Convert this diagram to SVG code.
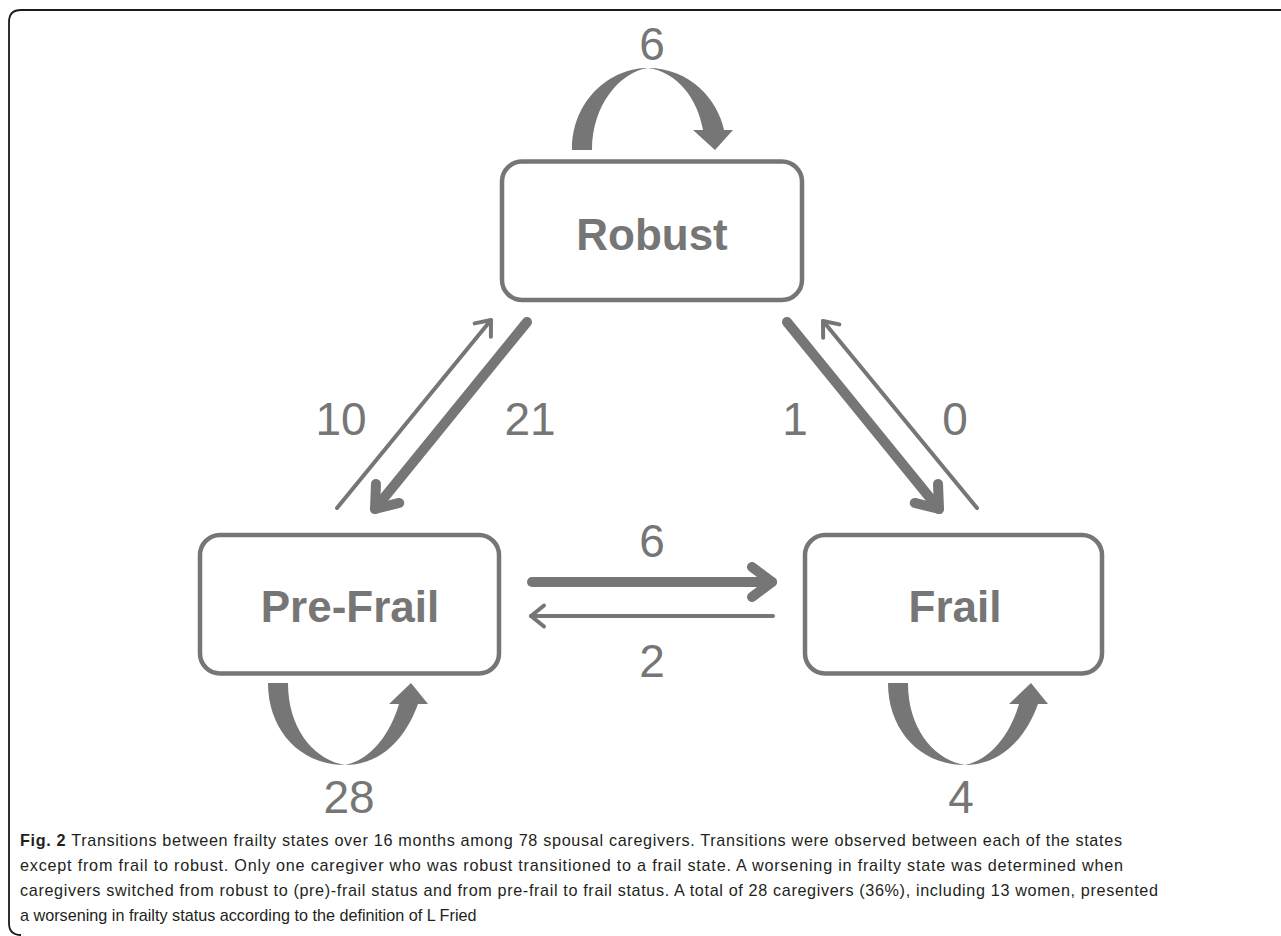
<svg xmlns="http://www.w3.org/2000/svg" width="1281" height="936" viewBox="0 0 1281 936">
<style>
.box{fill:#fff;stroke:#767676;stroke-width:4.5}
.lbl{font-family:"Liberation Sans",Arial,sans-serif;font-weight:bold;font-size:44px;fill:#767676;text-anchor:middle}
.num{font-family:"Liberation Sans",Arial,sans-serif;font-size:46px;fill:#767676;text-anchor:middle}
.thick{fill:none;stroke:#767676;stroke-width:10;stroke-linecap:round;stroke-linejoin:round}
.thin{fill:none;stroke:#767676;stroke-width:4;stroke-linecap:round;stroke-linejoin:round}
.loop{fill:#767676;stroke:none}
.cap{font-family:"Liberation Sans",Arial,sans-serif;font-size:16.2px;fill:#231f20}
</style>
<defs>
<marker id="headThick" markerUnits="userSpaceOnUse" orient="auto" refX="0" refY="0" markerWidth="1" markerHeight="1" overflow="visible">
<path d="M-20,-15 L0,0 L-20,15" fill="none" stroke="#767676" stroke-width="10" stroke-linecap="round" stroke-linejoin="round"/>
</marker>
<marker id="headThin" markerUnits="userSpaceOnUse" orient="auto" refX="0" refY="0" markerWidth="1" markerHeight="1" overflow="visible">
<path d="M-13,-10.5 L0,0 L-13,10.5" fill="none" stroke="#767676" stroke-width="4" stroke-linecap="round" stroke-linejoin="round"/>
</marker>
</defs>
<rect width="1281" height="936" fill="#fff"/>
<path d="M1281,10 L21,10 Q9,10 9,22 L9,923 Q9,935 21,935" fill="none" stroke="#1a1a1a" stroke-width="1.8"/>

<g id="connectors">
<path class="thick" d="M527,322 L375,509" marker-end="url(#headThick)"/>
<path class="thin" d="M337,508 L491,320" marker-end="url(#headThin)"/>
<path class="thick" d="M787,322 L939,509" marker-end="url(#headThick)"/>
<path class="thin" d="M977,508 L823,321" marker-end="url(#headThin)"/>
<path class="thick" d="M532,582 L772,582" marker-end="url(#headThick)"/>
<path class="thin" d="M773,616 L531,616" marker-end="url(#headThin)"/>
<path id="loop-robust" class="loop" d="M572,150 C572,100 610,68 648,68 C690,68 718,100 724,130 L733,130 L715,150 L693,130 L703,130 C698,100 678,72 648,68 C620,72 592,105 592,150 Z"/>
<path id="loop-prefrail" class="loop" d="M268,683 C268,730 300,765 345,765 C380,765 405,740 418,704 L428,704 L411,683 L389,704 L399,704 C390,735 370,760 345,765 C315,760 288,730 288,683 Z"/>
<path id="loop-frail" class="loop" d="M888,683 C888,730 920,765 965,765 C1000,765 1025,740 1038,704 L1048,704 L1031,683 L1009,704 L1019,704 C1010,735 990,760 965,765 C935,760 908,730 908,683 Z"/>
</g>

<g id="node-robust">
<rect class="box" x="502" y="161.5" width="300" height="138.5" rx="20"/>
<text class="lbl" x="652" y="250">Robust</text>
</g>
<g id="node-prefrail">
<rect class="box" x="200" y="535" width="299" height="138.5" rx="20"/>
<text class="lbl" x="350" y="622">Pre-Frail</text>
</g>
<g id="node-frail">
<rect class="box" x="805" y="535" width="297" height="138.5" rx="20"/>
<text class="lbl" x="955" y="622">Frail</text>
</g>

<g id="labels">
<text class="num" x="652" y="60">6</text>
<text class="num" x="341" y="435">10</text>
<text class="num" x="530" y="435">21</text>
<text class="num" x="795" y="435">1</text>
<text class="num" x="955" y="435">0</text>
<text class="num" x="652" y="557">6</text>
<text class="num" x="652" y="677">2</text>
<text class="num" x="349" y="813">28</text>
<text class="num" x="961" y="813">4</text>
</g>

<g id="caption">
<text class="cap" x="20" y="846" textLength="1102" lengthAdjust="spacing"><tspan font-weight="bold">Fig. 2</tspan> Transitions between frailty states over 16 months among 78 spousal caregivers. Transitions were observed between each of the states</text>
<text class="cap" x="20" y="871" textLength="1103" lengthAdjust="spacing">except from frail to robust. Only one caregiver who was robust transitioned to a frail state. A worsening in frailty state was determined when</text>
<text class="cap" x="20" y="896" textLength="1138" lengthAdjust="spacing">caregivers switched from robust to (pre)-frail status and from pre-frail to frail status. A total of 28 caregivers (36%), including 13 women, presented</text>
<text class="cap" x="20" y="921">a worsening in frailty status according to the definition of L Fried</text>
</g>
</svg>
